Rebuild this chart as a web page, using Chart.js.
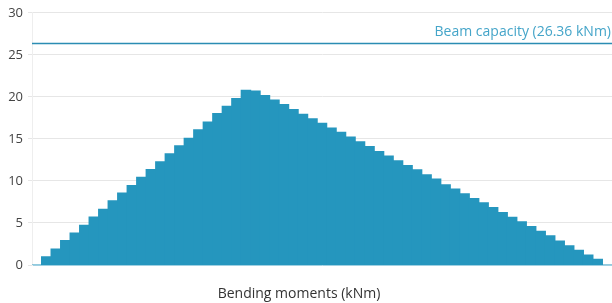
<!DOCTYPE html>
<html>
<head>
<meta charset="utf-8">
<script src="https://cdn.jsdelivr.net/npm/chart.js@4/dist/chart.umd.min.js"></script>
<style>
  html, body { margin: 0; padding: 0; background: #ffffff; }
  #wrap { width: 612px; height: 303px; position: relative; }
</style>
</head>
<body>
<div id="wrap"><canvas id="c"></canvas></div>
<script>
const positions = Array.from({length: 61}, (_, i) => String(i));
const moments = [
  0, 0.99, 1.91, 2.90, 3.82, 4.73, 5.72, 6.64, 7.63, 8.55,
  9.46, 10.45, 11.37, 12.28, 13.24, 14.19, 15.07, 16.10, 17.02, 18.01,
  18.88, 19.80, 20.79, 20.70, 20.15, 19.64, 19.08, 18.49, 17.93, 17.41,
  16.85, 16.30, 15.78, 15.23, 14.67, 14.11, 13.51, 12.96, 12.40, 11.84,
  11.33, 10.73, 10.22, 9.54, 9.03, 8.47, 7.91, 7.39, 6.83, 6.24,
  5.69, 5.13, 4.57, 4.02, 3.49, 2.86, 2.30, 1.75, 1.19, 0.68, 0
];
const yTicks = [0, 5, 10, 15, 20, 25, 30];
const capacity = 26.36;
const capacityLabel = 'Beam capacity (26.36 kNm)';
const xTitle = 'Bending moments (kNm)';

const FONT = "'Open Sans', 'Noto Sans', sans-serif";

const capacityPlugin = {
  id: 'capacity',
  afterDatasetsDraw(chart) {
    const {ctx, chartArea, scales} = chart;
    ctx.save();
    const y = scales.y.getPixelForValue(capacity);
    ctx.strokeStyle = '#2b8db3';
    ctx.lineWidth = 1.5;
    ctx.beginPath();
    ctx.moveTo(chartArea.left, y);
    ctx.lineTo(chartArea.right, y);
    ctx.stroke();
    ctx.fillStyle = '#45a5c9';
    ctx.font = "14px " + FONT;
    ctx.textAlign = 'right';
    ctx.textBaseline = 'alphabetic';
    ctx.fillText(capacityLabel, chartArea.right - 1, y - 7);
    // x-axis title
    ctx.fillStyle = '#333333';
    ctx.textAlign = 'center';
    ctx.textBaseline = 'middle';
    ctx.fillText(xTitle, 299, 294);
    ctx.restore();
  }
};

new Chart(document.getElementById('c'), {
  type: 'bar',
  data: {
    labels: positions,
    datasets: [{
      data: moments,
      backgroundColor: '#2596be',
      borderWidth: 0,
      inflateAmount: 0.5,
      categoryPercentage: 1.0,
      barPercentage: 1.0
    }]
  },
  options: {
    responsive: true,
    maintainAspectRatio: false,
    animation: false,
    layout: { padding: { top: 7, right: 0, left: 0, bottom: 30 } },
    plugins: { legend: { display: false }, tooltip: { enabled: false } },
    scales: {
      x: {
        ticks: { display: false },
        grid: { display: false },
        border: { display: true, color: '#9fd0e2', width: 1 },
        title: { display: false }
      },
      y: {
        min: 0,
        max: 30,
        afterBuildTicks(scale) { scale.ticks = yTicks.map(v => ({value: v})); },
        afterFit(scale) { scale.width = 32; },
        ticks: {
          color: '#444444',
          font: { family: FONT, size: 13 },
          padding: 5
        },
        grid: { color: '#e6e6e6', lineWidth: 1, tickLength: 4 },
        border: { display: true, color: '#eeeeee' }
      }
    }
  },
  plugins: [capacityPlugin]
});
</script>
</body>
</html>
